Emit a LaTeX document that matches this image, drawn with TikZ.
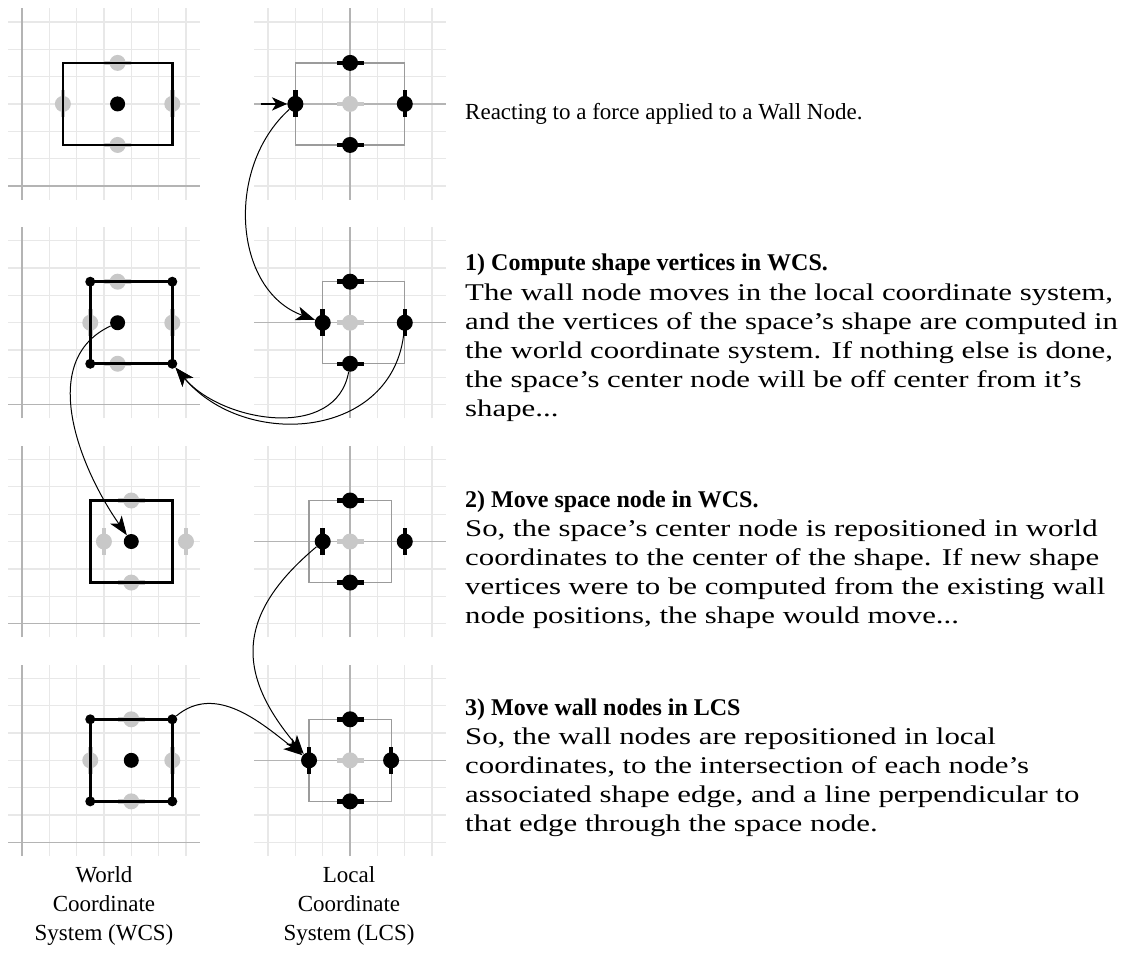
\documentclass[tikz,border=0pt]{standalone}
\usepackage{fontspec}
\setmainfont{Liberation Serif}
\newfontfamily\bodyfont[FakeStretch=1.284,Ligatures=TeX]{Liberation Serif}
\usetikzlibrary{arrows.meta}
\definecolor{gridc}{RGB}{232,232,232}
\definecolor{axisc}{RGB}{180,180,180}
\definecolor{rectc}{RGB}{155,155,155}
\definecolor{ghost}{RGB}{200,200,200}
\begin{document}
\begin{tikzpicture}[x=27.35pt,y=27.35pt,
  gridline/.style={draw=gridc,line width=1.3pt},
  axisline/.style={draw=axisc,line width=1.3pt},
  wcsrect/.style={draw=black,line width=2.8pt},
  lcsrect/.style={draw=rectc,line width=1.2pt},
  cornerdot/.style={circle,fill=black,inner sep=0pt,minimum size=10pt},
  spacedot/.style={circle,fill=black,inner sep=0pt,minimum size=15pt},
  wallh/.style={circle,fill=#1,inner sep=0pt,minimum size=16pt,
    label={[rectangle,fill=#1,inner sep=0pt,minimum width=27pt,minimum height=4.5pt]center:{}}},
  wallv/.style={circle,fill=#1,inner sep=0pt,minimum size=16pt,
    label={[rectangle,fill=#1,inner sep=0pt,minimum width=4.5pt,minimum height=27pt]center:{}}},
  conn/.style={draw=black,line width=1pt,-{Stealth[length=19pt,width=14pt,inset=5pt]}},
  force/.style={draw=black,line width=2.6pt,-{Stealth[length=15pt,width=13pt,inset=4pt]}},
  txt/.style={font=\fontsize{23}{29}\selectfont,inner sep=0pt,align=left,anchor=base west},
  headtxt/.style={font=\bfseries\fontsize{24}{29}\selectfont,inner sep=0pt,align=left,anchor=base west},
  bodytxt/.style={font=\bodyfont\fontsize{24}{29}\selectfont,inner sep=0pt,align=left,anchor=base west},
  lbl/.style={font=\fontsize{23}{29}\selectfont,inner sep=0pt,align=center,anchor=base}
]
\useasboundingbox (0,0) rectangle (40.987,-35.247);
% grids
\foreach \k in {0,1,2,3}{
  \begin{scope}[shift={(0.8,-6.8-8*\k)}]
    \foreach \i in {1,...,6}{
      \draw[gridline] (\i,-0.5) -- (\i,6.5);
      \draw[gridline] (-0.5,\i) -- (6.5,\i);
    }
    \draw[axisline] (0,-0.5) -- (0,6.5);
    \draw[axisline] (-0.5,0) -- (6.5,0);
  \end{scope}
  \begin{scope}[shift={(12.8,-3.8-8*\k)}]
    \foreach \i in {-3,-2,-1,1,2,3}{
      \draw[gridline] (\i,-3.5) -- (\i,3.5);
      \draw[gridline] (-3.5,\i) -- (3.5,\i);
    }
    \draw[axisline] (0,-3.5) -- (0,3.5);
    \draw[axisline] (-3.5,0) -- (3.5,0);
  \end{scope}
}
% ---------- panel 1
\begin{scope}[shift={(0.8,-6.8)}]
  \node[wallh=ghost] (wa-gt) at (3.5,4.5) {};
  \node[wallh=ghost] (wa-gb) at (3.5,1.5) {};
  \node[wallv=ghost] (wa-gl) at (1.5,3) {};
  \node[wallv=ghost] (wa-gr) at (5.5,3) {};
  \draw[wcsrect] (1.5,1.5) rectangle (5.5,4.5);
  \node[spacedot] (wa-c) at (3.5,3) {};
\end{scope}
\begin{scope}[shift={(12.8,-3.8)}]
  \draw[lcsrect] (-2,-1.5) rectangle (2,1.5);
  \node[wallh=ghost] (la-c) at (0,0) {};
  \node[wallh=black] (la-t) at (0,1.5) {};
  \node[wallh=black] (la-b) at (0,-1.5) {};
  \node[wallv=black] (la-l) at (-2,0) {};
  \node[wallv=black] (la-r) at (2,0) {};
  \coordinate (la-f) at (-3.27,0);
\end{scope}
% ---------- panel 2
\begin{scope}[shift={(0.8,-14.8)}]
  \node[wallh=ghost] (wb-gt) at (3.5,4.5) {};
  \node[wallh=ghost] (wb-gb) at (3.5,1.5) {};
  \node[wallv=ghost] (wb-gl) at (2.5,3) {};
  \node[wallv=ghost] (wb-gr) at (5.5,3) {};
  \draw[wcsrect] (2.5,1.5) rectangle (5.5,4.5);
  \node[cornerdot] (wb-bl) at (2.5,1.5) {};
  \node[cornerdot] (wb-br) at (5.5,1.5) {};
  \node[cornerdot] (wb-tl) at (2.5,4.5) {};
  \node[cornerdot] (wb-tr) at (5.5,4.5) {};
  \node[spacedot] (wb-c) at (3.5,3) {};
\end{scope}
\begin{scope}[shift={(12.8,-11.8)}]
  \draw[lcsrect] (-1,-1.5) rectangle (2,1.5);
  \node[wallh=ghost] (lb-c) at (0,0) {};
  \node[wallh=black] (lb-t) at (0,1.5) {};
  \node[wallh=black] (lb-b) at (0,-1.5) {};
  \node[wallv=black] (lb-l) at (-1,0) {};
  \node[wallv=black] (lb-r) at (2,0) {};
\end{scope}
% ---------- panel 3
\begin{scope}[shift={(0.8,-22.8)}]
  \node[wallh=ghost] (wc-gt) at (4,4.5) {};
  \node[wallh=ghost] (wc-gb) at (4,1.5) {};
  \node[wallv=ghost] (wc-gl) at (3,3) {};
  \node[wallv=ghost] (wc-gr) at (6,3) {};
  \draw[wcsrect] (2.5,1.5) rectangle (5.5,4.5);
  \node[spacedot] (wc-c) at (4,3) {};
\end{scope}
\begin{scope}[shift={(12.8,-19.8)}]
  \draw[lcsrect] (-1.5,-1.5) rectangle (1.5,1.5);
  \node[wallh=ghost] (lc-c) at (0,0) {};
  \node[wallh=black] (lc-t) at (0,1.5) {};
  \node[wallh=black] (lc-b) at (0,-1.5) {};
  \node[wallv=black] (lc-l) at (-1,0) {};
  \node[wallv=black] (lc-r) at (2,0) {};
\end{scope}
% ---------- panel 4
\begin{scope}[shift={(0.8,-30.8)}]
  \node[wallh=ghost] (wd-gt) at (4,4.5) {};
  \node[wallh=ghost] (wd-gb) at (4,1.5) {};
  \node[wallv=ghost] (wd-gl) at (2.5,3) {};
  \node[wallv=ghost] (wd-gr) at (5.5,3) {};
  \draw[wcsrect] (2.5,1.5) rectangle (5.5,4.5);
  \node[cornerdot] (wd-bl) at (2.5,1.5) {};
  \node[cornerdot] (wd-br) at (5.5,1.5) {};
  \node[cornerdot] (wd-tl) at (2.5,4.5) {};
  \node[cornerdot] (wd-tr) at (5.5,4.5) {};
  \node[spacedot] (wd-c) at (4,3) {};
\end{scope}
\begin{scope}[shift={(12.8,-27.8)}]
  \draw[lcsrect] (-1.5,-1.5) rectangle (1.5,1.5);
  \node[wallh=ghost] (ld-c) at (0,0) {};
  \node[wallh=black] (ld-t) at (0,1.5) {};
  \node[wallh=black] (ld-b) at (0,-1.5) {};
  \node[wallv=black] (ld-l) at (-1.5,0) {};
  \node[wallv=black] (ld-r) at (1.5,0) {};
\end{scope}
% ---------- connectors
\draw[force] (la-f) -- (la-l);
\draw[conn] (la-l) to[out=222,in=160,looseness=1.05] (lb-l);
\draw[conn] (lb-b) to[out=-100,in=-50,looseness=1.05] (wb-br);
\draw[conn] (lb-r) to[out=-95,in=-50,looseness=1.2] (wb-br);
\draw[conn] (wb-c) to[out=205,in=125] (wc-c);
\draw[conn] (lc-l) to[out=220,in=130,looseness=1.3] (ld-l);
\draw[conn] (wd-tr) to[out=40,in=142] (ld-l);
% ---------- text (base anchor = baseline of last line)
\node[txt] (t0) at (465pt,-120pt) {Reacting to a force applied to a Wall Node.};
\node[headtxt] (h1) at (465pt,-271pt) {1) Compute shape vertices in WCS.};
\node[bodytxt] (b1) at (465pt,-416pt) {The wall node moves in the local coordinate system,\\
and the vertices of the space's shape are computed in\\
the world coordinate system. If nothing else is done,\\
the space's center node will be off center from it's\\
shape...};
\node[headtxt] (h2) at (465pt,-507pt) {2) Move space node in WCS.};
\node[bodytxt] (b2) at (465pt,-623pt) {So, the space's center node is repositioned in world\\
coordinates to the center of the shape. If new shape\\
vertices were to be computed from the existing wall\\
node positions, the shape would move...};
\node[headtxt] (h3) at (465pt,-715pt) {3) Move wall nodes in LCS};
\node[bodytxt] (b3) at (465pt,-831pt) {So, the wall nodes are repositioned in local\\
coordinates, to the intersection of each node's\\
associated shape edge, and a line perpendicular to\\
that edge through the space node.};
\node[lbl] (lw) at (104pt,-940pt) {World\\Coordinate\\System (WCS)};
\node[lbl] (ll) at (349pt,-940pt) {Local\\Coordinate\\System (LCS)};
\end{tikzpicture}
\end{document}
